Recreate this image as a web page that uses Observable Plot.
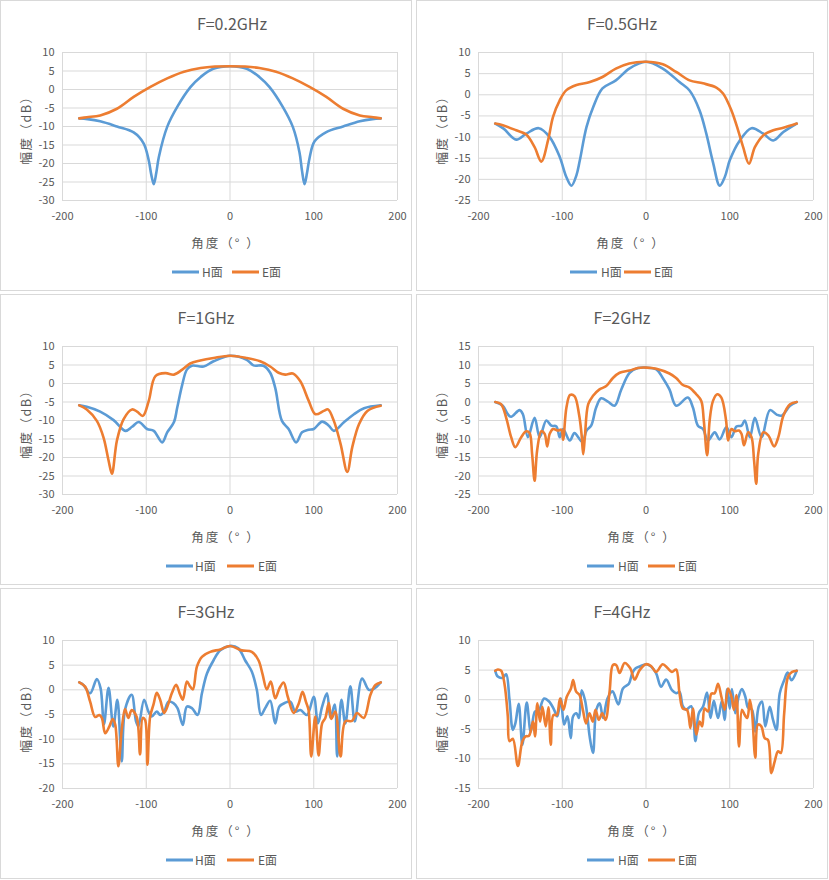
<!DOCTYPE html>
<html><head><meta charset="utf-8">
<script src="https://cdn.jsdelivr.net/npm/d3@7"></script>
<script src="https://cdn.jsdelivr.net/npm/@observablehq/plot@0.6"></script>
<style>
body{margin:0;background:#fff;font-family:"Noto Sans CJK SC","Noto Sans",sans-serif;}
#wrap{position:relative;width:829px;height:880px;background:#fff;}
.panel{position:absolute;width:412px;height:291px;}
.frame{position:absolute;left:0;top:0;width:410px;height:289px;border:1px solid #d9d9d9;}
.panel svg{position:absolute;left:0;top:0;}
.t{position:absolute;line-height:1;white-space:nowrap;color:#595959;transform:translate(-50%,-50%);}
.title{font-size:16px;}
.ylab{font-size:12.5px;letter-spacing:1.5px;transform:translate(-50%,-50%) rotate(-90deg);}
.xlab{font-size:12.5px;letter-spacing:2px;}
.sw{position:absolute;height:3px;transform:translateY(-50%);}
.lt{position:absolute;font-size:12px;line-height:1;color:#595959;transform:translateY(-50%);white-space:nowrap;}
</style>
</head><body><div id="wrap"></div>
<script>
// ---------- data (angle in degrees, amplitude in dB) ----------
const titles = ["F=0.2GHz","F=0.5GHz","F=1GHz","F=2GHz","F=3GHz","F=4GHz"];
const seriesNames = ["H面","E面"];
const xTicks = [-200,-100,0,100,200];
const yDomains = [[-30,10],[-25,10],[-30,10],[-25,15],[-20,10],[-15,10]];

// F=0.2GHz
const h02A = [-180,-170,-155,-135,-115,-103,-97,-94,-91,-88,-85,-75,-63,-47,-35,-20,0,20,35,47,63,75,83,86,89,92,95,101,115,135,155,170,180];
const h02V = [-7.8,-8.0,-8.6,-10.0,-11.6,-14.6,-19.2,-23.0,-25.6,-22.5,-18.3,-10.1,-4.7,0.7,3.4,5.6,6.3,5.6,3.4,0.7,-4.7,-10.1,-17.0,-22.0,-25.6,-22.5,-18.5,-14.0,-11.5,-10.0,-8.6,-8.0,-7.8];
const e02A = [-180,-171,-155,-135,-115,-95,-75,-55,-35,-18,0,18,35,55,75,95,115,135,155,171,180];
const e02V = [-7.8,-7.5,-7.0,-5.2,-2.0,0.7,3.0,4.8,5.8,6.2,6.3,6.2,5.8,4.8,3.0,0.7,-2.0,-5.2,-7.0,-7.5,-7.8];

// F=0.5GHz
const h05A = [-180,-170,-155,-143,-128,-115,-103,-95,-89,-83,-79,-71,-63,-52,-36,-20,0,20,40,52,64,72,80,88,94,100,112,126,140,152,164,180];
const h05V = [-6.8,-8.0,-10.6,-9.2,-7.9,-10.0,-14.7,-19.5,-21.5,-19.0,-15.5,-7.6,-2.9,1.5,3.4,6.2,7.8,6.2,3.0,1.0,-3.7,-9.2,-16.0,-21.5,-19.5,-15.5,-10.8,-7.9,-9.2,-10.8,-8.8,-6.8];
const e05A = [-180,-171,-155,-143,-133,-125,-117,-111,-103,-95,-83,-67,-52,-36,-20,0,20,36,52,68,84,92,102,110,116,123,130,140,152,164,180];
const e05V = [-6.8,-7.2,-8.4,-9.4,-12.4,-15.8,-10.8,-5.2,-1.3,1.1,2.3,3.0,4.2,6.2,7.4,7.8,7.2,5.4,3.4,2.7,1.7,0.3,-3.7,-8.4,-12.4,-16.3,-12.4,-9.6,-8.4,-7.8,-6.8];

// F=1GHz
const h1A = [-180,-171,-155,-139,-125,-117,-109,-99,-91,-81,-75,-67,-63,-57,-51.5,-45.5,-31.5,-19.6,0,20,28,40,48,54,62,70,79,86,94,100,110,118,124,136,148,160,180];
const h1V = [-5.9,-6.3,-7.6,-9.9,-12.8,-11.7,-10.4,-12.3,-12.8,-15.9,-13.2,-10.5,-6.5,-0.3,3.75,4.8,4.6,6.0,7.5,6.4,4.9,4.8,2.9,-1.2,-10.1,-12.3,-15.9,-13.2,-12.5,-12.3,-10.3,-11.4,-12.8,-10.5,-8.3,-6.7,-5.9];
const e1A = [-180,-171,-159,-151,-145,-141,-135,-127,-117,-111,-104,-97,-89,-77,-67,-57,-47.5,-35.5,-19.6,0,20,36,48,58,66,75,84,94,102,112,117,124,132,140,146,154,164,180];
const e1V = [-5.9,-7.0,-10.1,-14.6,-20.8,-24.4,-15.4,-9.6,-7.0,-7.6,-8.75,-4.7,2.0,2.8,2.4,3.75,5.4,6.2,6.9,7.5,6.9,6.0,4.6,2.9,2.4,2.7,0.6,-4.7,-8.3,-7.4,-7.0,-10.1,-16.3,-23.9,-17.2,-11.0,-7.4,-6.0];

// F=2GHz
const h2A = [-180,-171,-165,-161,-151,-147,-141,-133,-127,-119,-113,-107,-103,-99,-91,-85.4,-76,-71,-65.5,-59.5,-53.5,-45.5,-37.5,-29.5,-19.6,-9.6,0,12.4,20,28,36,50,56,62,68,74,82,88,96,102,108,114,118,124,130,138,148,156,162,172,180];
const h2V = [0,-1.0,-3.3,-4.0,-2.2,-3.3,-9.5,-4.3,-9.5,-5.0,-6.4,-6.6,-9.5,-7.3,-10.4,-8.4,-10.8,-7.7,-6.4,-1.5,1.0,0.1,-1.0,3.4,7.9,9.2,9.3,8.8,6.5,3.4,-1.0,1.2,-1.5,-6.4,-7.3,-10.4,-8.2,-10.1,-6.8,-9.5,-6.6,-6.4,-5.0,-9.5,-4.3,-9.5,-2.2,-3.4,-3.7,-1.0,0];
const e2A = [-180,-173,-167,-161,-156,-149,-143,-139,-136,-133,-130,-125,-121,-118,-115,-111,-105,-101,-99,-95,-90.6,-85.4,-80,-77,-75,-73,-69,-63.5,-55.5,-47.5,-39.5,-31.5,-19.6,-9.6,0,12.4,28,36,44,52,60,66,69,73,76,80,85,90,95.6,98,102,106,111,114,117,122,126,129,131.6,134,140,146,153,158,164,172,180];
const e2V = [0,-0.6,-4.2,-9.5,-12.2,-9.5,-7.9,-8.4,-14.0,-21.3,-13.1,-7.9,-8.6,-12.0,-8.6,-7.3,-7.7,-7.5,-10.2,-1.5,1.9,1.6,-3.3,-8.6,-14.1,-9.5,-0.6,1.6,3.4,4.3,6.5,7.9,8.5,9.2,9.3,9.0,7.7,6.5,4.6,3.9,2.1,0.3,-5.0,-14.4,-5.0,0.3,2.1,1.2,-5.0,-10.4,-7.3,-7.9,-7.7,-8.6,-11.7,-8.2,-9.5,-15.7,-22.1,-14.0,-8.2,-9.0,-12.0,-9.5,-3.7,-0.6,0];

// F=3GHz
const h3A = [-180,-175,-167,-159,-154.5,-150.5,-145,-139.3,-134.5,-129.3,-125.3,-117.4,-112.2,-109.4,-102.6,-97.4,-93.4,-87.4,-83.4,-78.6,-73.5,-67.5,-62.7,-56.3,-51.5,-45.5,-38.7,-33.5,-27.5,-19.6,-11.6,0,10,18,26,32,37,42,48,54,59,66,72,78,84,92,100,105,110,115.8,120,125,128,133,137.7,143.7,149,157.7,165.7,171.7,180];
const h3V = [1.5,1.0,-0.7,2.2,0.3,-7.0,0.4,-7.4,-2.0,-14.5,-4.0,-1.0,-6.4,-7.4,-2.0,-4.4,-5.4,-4.4,-5.1,-4.4,-2.4,-2.7,-3.7,-7.1,-3.4,-3.7,-5.1,-0.7,3.3,6.0,8.0,8.9,8.4,6.0,3.7,0,-5.1,-3.7,-2.2,-6.8,-3.4,-2.6,-2.4,-4.4,-4.1,-5.1,-1.4,-6.8,-3.4,-0.7,-5.7,-3.0,-13.5,-2.0,-6.8,0.7,-6.4,2.3,0,0.2,1.5];
const e3A = [-180,-173,-167,-161,-156,-153,-149,-144,-140,-137,-133.3,-129.3,-125.3,-121.4,-117.4,-111.4,-107.4,-104.2,-101.4,-98.6,-95.4,-91.4,-87.4,-83.4,-78.6,-73.5,-69.5,-64.3,-59.5,-56.3,-51.5,-47.5,-44.3,-39.5,-33.5,-23.6,-11.6,0,14,26,34,38.7,44,48.7,54,59,64,69,76,82,86.6,90.6,93.8,97,101.8,105.8,110,113.8,118,121,125.7,132,137.7,145.7,151.7,159.7,167.7,173.7,180];
const e3V = [1.5,0.65,-2.4,-5.5,-5.1,-5.7,-8.8,-7.4,-5.9,-7.1,-15.5,-8.1,-3.9,-5.7,-4.1,-5.5,-13.1,-5.7,-6.1,-15.2,-5.5,-3.0,-0.6,-2.0,-4.7,-2.8,-0.7,1.0,-1.0,-2.0,1.7,0.65,0.1,4.7,6.7,7.7,8.2,8.9,8.0,7.7,6.0,3.3,0.1,1.7,-1.7,0.3,1.5,-1.4,-4.7,-2.8,-0.4,-2.4,-4.1,-13.5,-5.4,-13.3,-6.8,-5.7,-2.7,-5.9,-4.4,-13.5,-6.4,-6.3,-4.7,-5.7,-1.0,1.0,1.5];

// F=4GHz
const h4A = [-180,-177,-171,-167,-163,-159,-156,-152,-147.6,-142.4,-137.6,-132.5,-128.5,-121.7,-115.7,-109.7,-105.8,-101.8,-97.8,-93.8,-89.8,-87,-83,-80,-76.8,-72.8,-70,-67.3,-63.3,-59.3,-55.3,-51.3,-46,-40,-33,-27.5,-20.4,-16.4,-12.4,-7.6,0,6,12,18,24,31,36,40,44,48,54,59,63,68,72.9,77,81,86,90.6,93.8,97,100,102.6,106.6,110.6,114.6,118.6,121.7,126.5,130.5,134.5,138.5,142.5,147.7,151.7,155.7,159.7,165,169,173.7,180];
const h4V = [4.9,3.9,3.7,4.3,0,-5.1,-4.0,-0.7,-7.6,-0.5,-5.4,-2.0,-2.0,0.2,-0.3,-1.7,-2.8,0.2,-4.2,-2.8,-6.5,-2.8,-2.3,-3.1,1.6,-0.1,-2.8,-6.2,-9.0,-1.7,-0.6,-3.1,0.2,1.4,-0.8,1.9,2.7,4.5,5.3,5.6,6.0,5.6,4.5,2.2,3.4,1.6,1.1,1.3,-1.1,-1.7,-1.1,-7.0,-2.3,-1.2,1.2,-3.1,-0.2,-3.1,-0.2,-3.4,1.8,-1.5,1.8,-2.3,0.5,1.8,0.5,-1.3,-1.7,-5.4,-1.2,-0.3,-4.5,-1.2,-3.4,-5.1,1.1,3.3,4.6,3.3,4.9];
const e4A = [-180,-177,-173,-169,-165,-163,-159,-153,-147.6,-143.7,-139.7,-134.9,-132.5,-129.7,-126.5,-123.7,-119.7,-116.5,-113.7,-110.6,-106.6,-102.6,-98.6,-94.6,-89.6,-87,-83.4,-79.4,-75.4,-71.5,-67.5,-63.5,-60.3,-56.3,-52.3,-48.3,-43.5,-39.5,-35.5,-31.5,-25.5,-18.8,-13.6,-7.6,0,6,12,20,26,31,36,40,44,49,53,56,60,64,67,70,74,78,82,86,90,94,98,102,105,108,111,114.6,118,121,124,126.5,130.5,133.7,137.7,141.7,145.7,149.7,153.7,157.7,161,165,169.6,174.5,180];
const e4V = [4.9,5.1,4.9,2.7,-2.8,-7.0,-6.6,-11.2,-7.0,-6.2,-6.1,-3.7,-6.2,-0.6,-3.7,-1.2,-4.5,-1.3,-7.6,-2.6,-2.6,0.2,-1.7,0.5,1.9,3.3,1.35,0.8,-1.7,-4.0,-2.3,-3.7,-1.7,-3.4,-2.3,-3.4,1.35,5.85,5.85,4.5,6.2,5.3,3.4,5.0,6.0,5.7,4.7,6.0,5.3,4.7,5.1,1.1,-1.5,-1.7,-4.8,-1.5,-5.9,-3.7,-4.5,-1.5,-2.0,1.0,1.1,2.7,0.5,-1.7,1.9,0.5,-1.7,0.8,-7.9,-1.7,-2.6,-3.1,0,-2.0,-9.8,-4.2,-4.5,-6.5,-6.8,-12.4,-10.4,-8.7,-9.0,-2.3,3.9,4.7,4.9];

// ---------- layout of the six chart boxes ----------
const panelPos = [[0,0],[416,0],[0,294],[416,294],[0,588],[416,588]];
const titleX = [232,206,206,206,206,206];
const xLabX = [226,215,226,226,226,226];
const legendX = [[172,202,232,262],[154,185,208,238],[166,195,227,258],[171,202,232,262],[166,195,227,258],[171,202,232,262]];
const seriesData = [
  [h02A,h02V,e02A,e02V],[h05A,h05V,e05A,e05V],[h1A,h1V,e1A,e1V],
  [h2A,h2V,e2A,e2V],[h3A,h3V,e3A,e3V],[h4A,h4V,e4A,e4V]
];
const colors = ["#5b9bd5","#ed7d31"];
const FONT = '"Noto Sans CJK SC","Noto Sans",sans-serif';

const wrap = document.getElementById("wrap");
const toRows = (A, V) => A.map((a, i) => ({a, v: V[i]}));
const fmt = d => String(d);

titles.forEach((title, k) => {
  const [px, py] = panelPos[k];
  const div = document.createElement("div");
  div.className = "panel";
  div.style.left = px + "px"; div.style.top = py + "px";
  div.innerHTML = '<div class="frame"></div>';
  wrap.appendChild(div);

  const [hA, hV, eA, eV] = seriesData[k];
  const [lo, hi] = yDomains[k];
  const yTicks = d3.range(lo, hi + 0.001, 5);

  const svg = Plot.plot({
    width: 411, height: 262,
    marginLeft: 62, marginRight: 14, marginTop: 52, marginBottom: 62,
    style: {fontFamily: FONT, fontSize: "11px", color: "#595959", background: "transparent", overflow: "visible"},
    x: {domain: [-200, 200]},
    y: {domain: [lo, hi]},
    marks: [
      Plot.gridX(xTicks, {stroke: "#d9d9d9", strokeOpacity: 1, strokeWidth: 1}),
      Plot.gridY(yTicks, {stroke: "#d9d9d9", strokeOpacity: 1, strokeWidth: 1}),
      Plot.axisX(xTicks, {tickSize: 0, tickPadding: 12, tickFormat: fmt, label: null}),
      Plot.axisY(yTicks, {tickSize: 0, tickPadding: 8, tickFormat: fmt, label: null}),
      Plot.line(toRows(hA, hV), {x: "a", y: "v", stroke: colors[0], strokeWidth: 2.6, curve: "catmull-rom", strokeLinejoin: "round", strokeLinecap: "round"}),
      Plot.line(toRows(eA, eV), {x: "a", y: "v", stroke: colors[1], strokeWidth: 2.6, curve: "catmull-rom", strokeLinejoin: "round", strokeLinecap: "round"})
    ]
  });
  div.appendChild(svg);

  const add = (cls, text, x, y) => {
    const t = document.createElement("div");
    t.className = cls; t.textContent = text;
    t.style.left = x + "px"; t.style.top = y + "px";
    div.appendChild(t);
    return t;
  };
  add("t title", title, titleX[k], 23);
  add("t ylab", "幅度（dB）", 26, 127);
  add("t xlab", "角度（° ）", xLabX[k], 243);

  const L = legendX[k];
  seriesNames.forEach((name, j) => {
    const sw = document.createElement("div");
    sw.className = "sw";
    sw.style.left = L[j * 2] + "px";
    sw.style.top = "272px";
    sw.style.width = "27px";
    sw.style.background = colors[j];
    div.appendChild(sw);
    add("lt", name, L[j * 2 + 1], 272);
  });
});
</script>
</body></html>
